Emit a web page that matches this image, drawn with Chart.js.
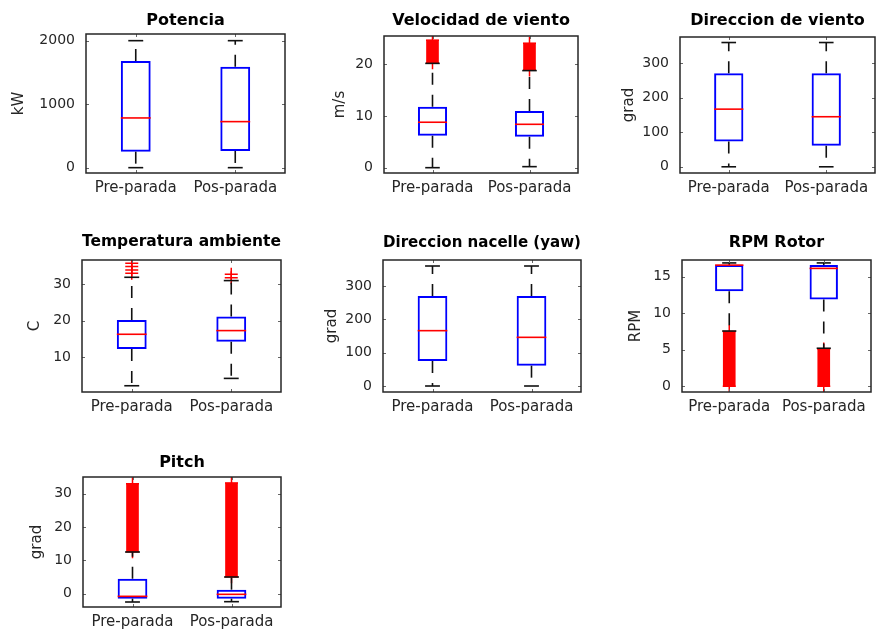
<!DOCTYPE html>
<html>
<head>
<meta charset="utf-8">
<script src="https://cdn.jsdelivr.net/npm/chart.js@4.4.1/dist/chart.umd.min.js"></script>
<style>
  body { margin: 0; background: #fff; width: 880px; height: 639px; position: relative; overflow: hidden; }
  canvas { position: absolute; }
</style>
</head>
<body>
<script>
const categories = ['Pre-parada', 'Pos-parada'];
const titles = ['Potencia', 'Velocidad de viento', 'Direccion de viento', 'Temperatura ambiente',
                'Direccion nacelle (yaw)', 'RPM Rotor', 'Pitch'];
const units = ['kW', 'm/s', 'grad', 'C', 'grad', 'RPM', 'grad'];

// per group: [lower whisker, q1, median, q3, upper whisker]
const potencia    = [[0, 252, 783, 1680, 2000], [0, 263, 725, 1590, 2000]];
const velocidad   = [[0, 6.2, 8.8, 11.8, 20.2], [0.2, 6.0, 8.4, 11.0, 18.8]];
const dirViento   = [[0, 73, 167, 271, 360], [0, 61, 145, 271, 360]];
const temperatura = [[2.3, 12.3, 16.3, 20.2, 31.8], [4.3, 14.3, 17.3, 21.1, 30.9]];
const dirNacelle  = [[0, 75, 166, 270, 360], [0, 61, 146, 270, 360]];
const rpmRotor    = [[7.56, 13.0, 16.6, 16.6, 16.9], [5.2, 11.9, 16.15, 16.6, 16.9]];
const pitch       = [[-2.5, -1.5, -0.8, 4.5, 12.5], [-2.4, -1.5, -0.2, 1.2, 5.0]];

// single outliers per group
const tempOutliers = [[32.9, 33.8, 34.7, 35.6], [31.7, 32.6]];
// dense runs of outliers per group: [from, to]
const velocidadRuns = [[20.3, 24.7], [18.9, 24.1]];
const rpmRuns       = [[0, 7.5], [0, 5.1]];
const pitchRuns     = [[12.6, 33.0], [5.1, 33.2]];

const yTicks = [[0, 1000, 2000], [0, 10, 20], [0, 100, 200, 300], [10, 20, 30],
                [0, 100, 200, 300], [0, 5, 10, 15], [0, 10, 20, 30]];
const yRanges = [[-84, 2105], [-1.03, 25.5], [-18, 376], [0.6, 36.5],
                 [-18, 378], [-0.8, 17.3], [-4, 35]];

const summaries = [potencia, velocidad, dirViento, temperatura, dirNacelle, rpmRotor, pitch];
const singles = [null, null, null, tempOutliers, null, null, null];
const runs = [null, velocidadRuns, null, null, null, rpmRuns, pitchRuns];

// axes boxes on the page (l, t, r, b), y label centre, title centre
const frames = [
  { l: 86,  t: 34,  r: 285, b: 173, lab: 18,  tt: 21 },
  { l: 384, t: 36,  r: 582, b: 173, lab: 339, tt: 21 },
  { l: 680, t: 37,  r: 875, b: 173, lab: 628, tt: 21 },
  { l: 82,  t: 260, r: 285, b: 392, lab: 34,  tt: 242 },
  { l: 383, t: 260, r: 581, b: 392, lab: 331, tt: 243 },
  { l: 682, t: 260, r: 875, b: 392, lab: 635, tt: 243 },
  { l: 83,  t: 477, r: 285, b: 607, lab: 36,  tt: 463 },
];
const X_H = 40, PAD_R = 4;

Chart.defaults.font.family = "'DejaVu Sans', sans-serif";
Chart.defaults.color = '#262626';

// median, dashed whiskers and caps
const boxParts = {
  id: 'boxParts',
  afterDatasetsDraw(chart) {
    const { ctx, chartArea: a, scales: { x, y } } = chart;
    const rows = chart.options.plugins.boxParts.rows;
    const boxes = chart.getDatasetMeta(0).data;
    ctx.save();
    ctx.beginPath();
    ctx.rect(a.left, a.top, a.right - a.left, a.bottom - a.top);
    ctx.clip();
    rows.forEach((s, g) => {
      const cx = x.getPixelForValue(g);
      const half = boxes[g].width / 2;
      const [lo, q1, med, q3, hi] = s.map(v => y.getPixelForValue(v));
      ctx.strokeStyle = '#111';
      ctx.lineWidth = 1.6;
      ctx.setLineDash([12, 10]);
      [[q3, hi], [q1, lo]].forEach(([from, to]) => {
        if (Math.abs(to - from) < 1) return;
        ctx.beginPath();
        ctx.moveTo(cx, from);
        ctx.lineTo(cx, to);
        ctx.stroke();
      });
      ctx.setLineDash([]);
      [hi, lo].forEach(py => {
        ctx.beginPath();
        ctx.moveTo(cx - half / 2, py);
        ctx.lineTo(cx + half / 2, py);
        ctx.stroke();
      });
      ctx.strokeStyle = '#ff0000';
      ctx.beginPath();
      ctx.moveTo(cx - half, med);
      ctx.lineTo(cx + half, med);
      ctx.stroke();
    });
    ctx.restore();
  }
};

// axes box with inward ticks on every side
const frame = {
  id: 'frame',
  afterDraw(chart) {
    const { ctx, chartArea: a, scales: { x, y } } = chart;
    ctx.save();
    ctx.strokeStyle = '#666';
    ctx.lineWidth = 1;
    y.ticks.forEach(t => {
      const py = Math.round(y.getPixelForValue(t.value)) + 0.5;
      ctx.beginPath();
      ctx.moveTo(a.left, py); ctx.lineTo(a.left + 3, py);
      ctx.moveTo(a.right, py); ctx.lineTo(a.right - 3, py);
      ctx.stroke();
    });
    x.ticks.forEach((t, i) => {
      const px = Math.round(x.getPixelForTick(i)) + 0.5;
      ctx.beginPath();
      ctx.moveTo(px, a.bottom); ctx.lineTo(px, a.bottom - 3);
      ctx.moveTo(px, a.top); ctx.lineTo(px, a.top + 3);
      ctx.stroke();
    });
    ctx.strokeStyle = '#262626';
    ctx.lineWidth = 1.5;
    ctx.strokeRect(a.left, a.top, a.right - a.left, a.bottom - a.top);
    ctx.restore();
  }
};

function makeChart(i) {
  const f = frames[i];
  const left = f.lab - 8;
  const top = f.tt - 9;
  const w = f.r + PAD_R - left;
  const h = f.b + X_H - top;
  const cv = document.createElement('canvas');
  cv.width = w; cv.height = h;
  cv.style.left = left + 'px'; cv.style.top = top + 'px';
  cv.style.width = w + 'px'; cv.style.height = h + 'px';
  document.body.appendChild(cv);

  const crossPts = [];
  (singles[i] || []).forEach((list, g) => list.forEach(v => crossPts.push({ x: categories[g], y: v })));
  (runs[i] || []).forEach((r, g) => r.forEach(v => crossPts.push({ x: categories[g], y: v })));

  const datasets = [
    {
      type: 'bar',
      data: summaries[i].map(s => [s[1], s[3]]),
      backgroundColor: 'rgba(0,0,0,0)',
      borderColor: '#0000ff',
      borderWidth: 2,
      borderSkipped: false,
      barPercentage: 0.3,
      categoryPercentage: 1,
      grouped: false,
      clip: 0
    },
    {
      type: 'bar',
      data: runs[i] ? runs[i].map(r => [r[0], r[1]]) : [null, null],
      backgroundColor: '#ff0000',
      borderWidth: 0,
      barThickness: 12,
      grouped: false,
      clip: 0
    },
    {
      type: 'line',
      data: crossPts,
      showLine: false,
      pointStyle: 'cross',
      pointRadius: 6.5,
      pointBorderColor: '#ff0000',
      pointBorderWidth: 1.5,
      clip: 0
    }
  ];

  new Chart(cv, {
    type: 'bar',
    data: { labels: categories, datasets },
    options: {
      responsive: false,
      animation: false,
      devicePixelRatio: 1,
      layout: { padding: { right: PAD_R } },
      plugins: {
        legend: { display: false },
        tooltip: { enabled: false },
        title: {
          display: true,
          text: titles[i],
          fullSize: false,
          color: '#000',
          font: { size: 16, weight: 'bold', lineHeight: '18px' },
          padding: { top: 0, bottom: f.t - top - 18 }
        },
        boxParts: { rows: summaries[i] }
      },
      scales: {
        x: {
          grid: { display: false, drawTicks: false },
          border: { display: false },
          ticks: { font: { size: 15 }, padding: 6, maxRotation: 0, autoSkip: false },
          afterFit: s => { s.height = X_H; }
        },
        y: {
          min: yRanges[i][0],
          max: yRanges[i][1],
          grid: { display: false, drawTicks: false },
          border: { display: false },
          ticks: { font: { size: 14 }, padding: 11, callback: v => String(v) },
          afterBuildTicks: s => { s.ticks = yTicks[i].map(v => ({ value: v })); },
          title: { display: true, text: units[i], font: { size: 15, lineHeight: '18px' }, padding: 0 },
          afterFit: s => { s.width = f.l - left; }
        }
      }
    },
    plugins: [boxParts, frame]
  });
}

frames.forEach((f, i) => makeChart(i));
</script>
</body>
</html>
